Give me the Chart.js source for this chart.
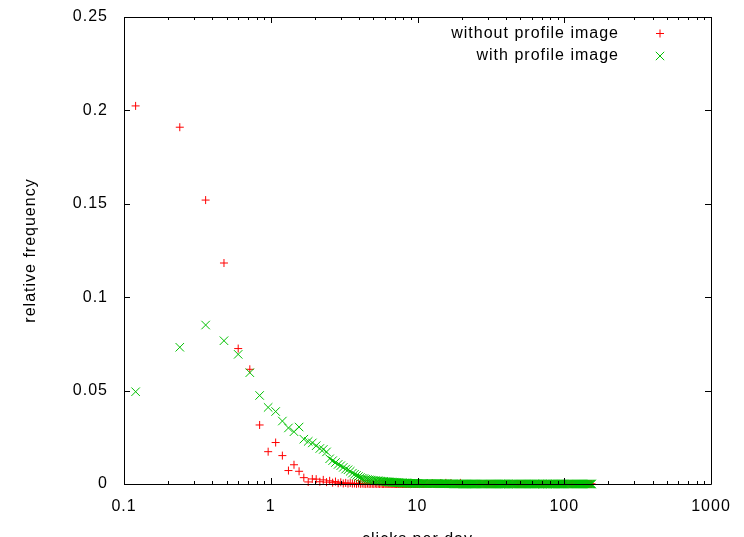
<!DOCTYPE html>
<html>
<head>
<meta charset="utf-8">
<script src="https://cdn.jsdelivr.net/npm/chart.js@4.4.1/dist/chart.umd.min.js"></script>
<style>
  html, body { margin: 0; padding: 0; overflow: hidden; background: #fff; }
</style>
</head>
<body>
<canvas id="clicksChart" width="744" height="570"></canvas>
<script>
// clicks per day (bin centres)
const clicksPerDay = [
  0.12, 0.24, 0.36, 0.48, 0.60, 0.72, 0.84, 0.96, 1.08, 1.20,
  1.32, 1.44, 1.56, 1.68, 1.80, 1.92, 2.04, 2.16, 2.28, 2.40,
  2.52, 2.64, 2.76, 2.88, 3.00, 3.12, 3.24, 3.36, 3.48, 3.60,
  3.72, 3.84, 3.96, 4.08, 4.20, 4.32, 4.44, 4.56, 4.68, 4.80,
  4.92, 5.04, 5.16, 5.28, 5.40, 5.52, 5.64, 5.76, 5.88, 6.00
];

const withoutImage = [
  0.2024, 0.1910, 0.1520, 0.1183, 0.0725, 0.0614, 0.0316, 0.0173, 0.0222, 0.0152,
  0.0072, 0.0103, 0.0068, 0.0034, 0.0011, 0.0027, 0.0026, 0.0012, 0.0022, 0.0010,
  0.0017, 0.0007, 0.0013, 0.0004, 0.0009, 0.0003, 0.0006, 0.0002, 0.0005, 0.0002,
  0.0003, 0.0001, 0.0003, 0.0001, 0.0002, 0.0001, 0, 0.0002, 0, 0.0001,
  0.0001, 0, 0.0002, 0, 0.0001, 0, 0.0001, 0, 0, 0.0001
];

const withImage = [
  0.0494, 0.0732, 0.0851, 0.0767, 0.0694, 0.0596, 0.0474, 0.0410, 0.0388, 0.0337,
  0.0300, 0.0280, 0.0305, 0.0240, 0.0228, 0.0220, 0.0205, 0.0190, 0.0185, 0.0172,
  0.0135, 0.0125, 0.0115, 0.0105, 0.0098, 0.0089, 0.0080, 0.0076, 0.0068, 0.0058,
  0.0052, 0.0046, 0.0040, 0.0035, 0.0031, 0.0029, 0.0026, 0.0024, 0.0022, 0.0021,
  0.0020, 0.0019, 0.0018, 0.0017, 0.0017, 0.0016, 0.0015, 0.0015, 0.0014, 0.0013
];

// long flat tail: many bins sitting on zero up to ~155 clicks per day
const tailClicks = [
  6.1, 6.2, 6.3, 6.4, 6.5, 6.6, 6.7, 6.8, 6.9, 7.0,
  7.1, 7.2, 7.3, 7.4, 7.5, 7.6, 7.7, 7.8, 7.9, 8.0,
  8.1, 8.2, 8.3, 8.4, 8.5, 8.6, 8.7, 8.8, 8.9, 9.0,
  9.1, 9.2, 9.3, 9.4, 9.5, 9.6, 9.7, 9.8, 9.9, 10.0,
  10.2, 10.4, 10.6, 10.8, 11.0, 11.2, 11.4, 11.6, 11.8, 12.0,
  12.2, 12.4, 12.6, 12.8, 13.0, 13.2, 13.4, 13.6, 13.8, 14.0,
  14.2, 14.4, 14.6, 14.8, 15.0, 15.2, 15.4, 15.6, 15.8, 16.0,
  16.3, 16.6, 16.9, 17.2, 17.5, 17.8, 18.1, 18.4, 18.7, 19.0,
  19.3, 19.6, 19.9, 20.2, 20.5, 20.8, 21.1, 21.4, 21.7, 22.0,
  22.3, 22.6, 22.9, 23.2, 23.5, 23.8, 24.1, 24.4, 24.7, 25.0,
  25.5, 26.0, 26.5, 27.0, 27.5, 28.0, 28.5, 29.0, 29.5, 30.0,
  30.5, 31.0, 31.5, 32.0, 32.5, 33.0, 33.5, 34.0, 34.5, 35.0,
  35.5, 36.0, 36.5, 37.0, 37.5, 38.0, 38.5, 39.0, 39.5, 40.0,
  40.8, 41.6, 42.4, 43.2, 44.0, 44.8, 45.6, 46.4, 47.2, 48.0,
  48.8, 49.6, 50.4, 51.2, 52.0, 52.8, 53.6, 54.4, 55.2, 56.0,
  56.8, 57.6, 58.4, 59.2, 60.0, 60.8, 61.6, 62.4, 63.2, 64.0,
  65.2, 66.4, 67.6, 68.8, 70.0, 71.2, 72.4, 73.6, 74.8, 76.0,
  77.2, 78.4, 79.6, 80.8, 82.0, 83.2, 84.4, 85.6, 86.8, 88.0,
  89.2, 90.4, 91.6, 92.8, 94.0, 95.2, 96.4, 97.6, 98.8, 100.0,
  102, 104, 106, 108, 110, 112, 114, 116, 118, 120,
  122, 124, 126, 128, 130, 132, 134, 136, 138, 140,
  142, 144, 146, 148, 150, 152, 154
];

const tailWithout = [
  0, 0.0001, 0, 0, 0.0001, 0, 0, 0, 0.0001, 0,
  0, 0, 0.0001, 0, 0, 0, 0, 0.0001, 0, 0,
  0, 0, 0, 0, 0, 0, 0, 0, 0, 0,
  0, 0, 0.0005, 0, 0, 0, 0, 0, 0, 0,
  0, 0, 0, 0, 0, 0, 0, 0, 0, 0,
  0, 0, 0.0005, 0, 0, 0, 0, 0, 0, 0,
  0, 0.0005, 0, 0, 0, 0, 0, 0.0006, 0, 0,
  0, 0, 0.0005, 0, 0, 0, 0, 0, 0, 0,
  0, 0.0006, 0, 0, 0, 0, 0, 0, 0, 0,
  0, 0, 0, 0, 0, 0, 0, 0, 0, 0,
  0, 0, 0, 0, 0, 0, 0, 0, 0, 0,
  0, 0, 0, 0, 0, 0, 0, 0, 0, 0,
  0, 0, 0, 0, 0, 0, 0, 0, 0, 0,
  0, 0, 0, 0, 0, 0, 0, 0, 0, 0,
  0, 0, 0, 0, 0, 0, 0, 0, 0, 0,
  0, 0, 0, 0, 0, 0, 0, 0, 0, 0,
  0, 0, 0, 0, 0, 0, 0, 0, 0, 0,
  0, 0, 0, 0, 0, 0, 0, 0, 0, 0,
  0, 0, 0, 0, 0, 0, 0, 0, 0, 0,
  0, 0, 0, 0, 0, 0, 0, 0, 0, 0,
  0, 0, 0, 0, 0, 0, 0, 0, 0, 0,
  0, 0, 0, 0, 0, 0, 0
];

const tailWith = [
  0.0012, 0.0012, 0.0011, 0.0011, 0.0010, 0.0010, 0.0009, 0.0009, 0.0009, 0.0008,
  0.0008, 0.0008, 0.0007, 0.0007, 0.0007, 0.0006, 0.0006, 0.0006, 0.0006, 0.0005,
  0.0005, 0.0005, 0.0005, 0.0005, 0.0005, 0.0004, 0.0004, 0.0004, 0.0004, 0.0004,
  0.0004, 0.0004, 0.0004, 0.0004, 0.0004, 0.0003, 0.0003, 0.0003, 0.0003, 0.0003,
  0.0003, 0.0003, 0.0003, 0.0003, 0.0003, 0.0002, 0.0002, 0.0002, 0.0002, 0.0002,
  0.0002, 0.0002, 0.0002, 0.0002, 0.0002, 0.0002, 0.0002, 0.0002, 0.0002, 0.0002,
  0.0001, 0.0001, 0.0001, 0.0001, 0.0001, 0.0001, 0.0001, 0.0001, 0.0001, 0.0001,
  0.0001, 0.0001, 0.0001, 0.0001, 0.0001, 0, 0, 0, 0, 0,
  0, 0, 0, 0, 0, 0, 0, 0, 0, 0,
  0, 0, 0, 0, 0, 0, 0, 0, 0, 0,
  0, 0, 0, 0, 0, 0, 0, 0, 0, 0,
  0, 0, 0, 0, 0, 0, 0, 0, 0, 0,
  0, 0, 0, 0, 0, 0, 0, 0, 0, 0,
  0, 0, 0, 0, 0, 0, 0, 0, 0, 0,
  0, 0, 0, 0, 0, 0, 0, 0, 0, 0,
  0, 0, 0, 0, 0, 0, 0, 0, 0, 0,
  0, 0, 0, 0, 0, 0, 0, 0, 0, 0,
  0, 0, 0, 0, 0, 0, 0, 0, 0, 0,
  0, 0, 0, 0, 0, 0, 0, 0, 0, 0,
  0, 0, 0, 0, 0, 0, 0, 0, 0, 0,
  0, 0, 0, 0, 0, 0, 0, 0, 0, 0,
  0, 0, 0, 0, 0, 0, 0
];

const seriesNames = ['without profile image', 'with profile image'];
const xTickValues = [0.1, 1, 10, 100, 1000];
const yTickStep = 0.05;

const RED = '#ff0000';
const GREEN = '#00c000';
const FONT = { family: '"Liberation Sans", Arial, sans-serif', size: 16 };

// gnuplot style: closed frame with inward ticks on all four sides
const frameTicks = {
  id: 'frameTicks',
  beforeDraw(chart) {
    chart.ctx.letterSpacing = '1px';
  },
  afterDatasetsDraw(chart) {
    const {ctx, chartArea: a, scales: {x, y}} = chart;
    ctx.save();
    ctx.strokeStyle = '#000';
    ctx.lineWidth = 1;
    ctx.beginPath();
    ctx.rect(a.left + 0.5, a.top + 0.5, a.right - a.left, a.bottom - a.top);

    let xTick = (v, len) => {
      let px = Math.round(x.getPixelForValue(v)) + 0.5;
      ctx.moveTo(px, a.bottom); ctx.lineTo(px, a.bottom - len);
      ctx.moveTo(px, a.top); ctx.lineTo(px, a.top + len);
    };
    xTickValues.forEach(v => xTick(v, 6));
    xTickValues.slice(0, -1).forEach(d => {
      for (let m = 2; m <= 9; m++) xTick(d * m, 3);
    });

    for (let v = 0; v <= 0.2501; v += yTickStep) {
      let py = Math.round(y.getPixelForValue(v)) + 0.5;
      ctx.moveTo(a.left, py); ctx.lineTo(a.left + 6, py);
      ctx.moveTo(a.right, py); ctx.lineTo(a.right - 6, py);
    }
    ctx.stroke();
    ctx.restore();
  },
  afterDraw(chart) {
    // legend: right aligned text with the marker sample on its right
    const {ctx, chartArea: a} = chart;
    ctx.save();
    ctx.font = '16px ' + FONT.family;
    ctx.letterSpacing = '1px';
    ctx.fillStyle = '#000';
    ctx.textAlign = 'right';
    ctx.textBaseline = 'middle';
    ctx.lineWidth = 1;
    seriesNames.forEach((name, i) => {
      let ty = a.top + 16.5 + i * 22.5;
      let mx = a.right - 51;
      ctx.fillText(name, a.right - 92, ty);
      ctx.beginPath();
      if (i === 0) {
        ctx.strokeStyle = RED;
        ctx.moveTo(mx - 4, ty); ctx.lineTo(mx + 4, ty);
        ctx.moveTo(mx, ty - 4); ctx.lineTo(mx, ty + 4);
      } else {
        ctx.strokeStyle = GREEN;
        ctx.moveTo(mx - 4.2, ty - 4.2); ctx.lineTo(mx + 4.2, ty + 4.2);
        ctx.moveTo(mx - 4.2, ty + 4.2); ctx.lineTo(mx + 4.2, ty - 4.2);
      }
      ctx.stroke();
    });
    ctx.restore();
  }
};

let toPoints = (xs, ys) => xs.map((c, i) => ({x: c, y: ys[i]}));

let ctx = document.getElementById('clicksChart').getContext('2d');
let chart = new Chart(ctx, {
  type: 'scatter',
  data: {
    datasets: [{
      label: seriesNames[0],
      data: toPoints(clicksPerDay, withoutImage).concat(toPoints(tailClicks, tailWithout)),
      pointStyle: 'cross',
      pointRadius: 4,
      pointHoverRadius: 4,
      borderColor: RED,
      backgroundColor: RED,
      borderWidth: 1,
      clip: false,
      order: 1
    }, {
      label: seriesNames[1],
      data: toPoints(clicksPerDay, withImage).concat(toPoints(tailClicks, tailWith)),
      pointStyle: 'crossRot',
      pointRadius: 6,
      pointHoverRadius: 6,
      borderColor: GREEN,
      backgroundColor: GREEN,
      borderWidth: 1,
      clip: false,
      order: 0
    }]
  },
  options: {
    responsive: false,
    animation: false,
    events: [],
    layout: { padding: { left: 0, top: 17, right: 33, bottom: 0 } },
    plugins: {
      legend: { display: false },
      tooltip: { enabled: false }
    },
    scales: {
      x: {
        type: 'logarithmic',
        min: 0.1,
        max: 1000,
        afterBuildTicks: scale => { scale.ticks = xTickValues.map(v => ({value: v})); },
        afterFit: scale => { scale.height = 86; scale.paddingLeft = 0; scale.paddingRight = 0; },
        grid: { display: false, drawTicks: false },
        border: { display: false },
        ticks: {
          autoSkip: false,
          maxRotation: 0,
          padding: 13,
          color: '#000',
          font: FONT,
          callback: v => String(v)
        },
        title: {
          display: true,
          text: 'clicks per day',
          color: '#000',
          font: FONT,
          padding: { top: 0, bottom: 21 }
        }
      },
      y: {
        min: 0,
        max: 0.25,
        afterFit: scale => { scale.width = 124; scale.paddingTop = 0; scale.paddingBottom = 0; },
        grid: { display: false, drawTicks: false },
        border: { display: false },
        ticks: {
          stepSize: yTickStep,
          padding: 16,
          color: '#000',
          font: FONT,
          callback: v => String(+v.toFixed(2))
        },
        title: {
          display: true,
          text: 'relative frequency',
          color: '#000',
          font: FONT,
          padding: { top: 21, bottom: 0 }
        }
      }
    }
  },
  plugins: [frameTicks]
});
</script>
</body>
</html>
